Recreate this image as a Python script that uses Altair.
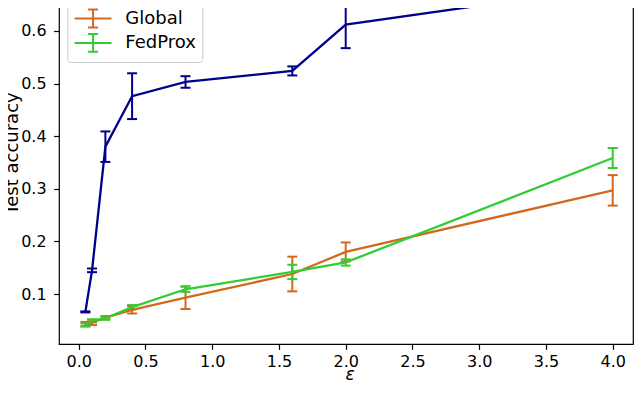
import altair as alt
import pandas as pd

# ---- data ----
eps = [0.05, 0.1, 0.2, 0.4, 0.8, 1.6, 2.0, 4.0]
series_names = ["Ours", "Global", "FedProx"]
series_colors = ["#00008b", "#d2691e", "#32cd32"]
legend_shown = ["Global", "FedProx"]

ours_mean = [0.066, 0.145, 0.380, 0.476, 0.503, 0.524, 0.612, 0.684]
ours_err = [0.001, 0.0035, 0.029, 0.0435, 0.011, 0.0086, 0.0447, 0.014]
global_mean = [0.043, 0.046, 0.055, 0.070, 0.093, 0.138, 0.180, 0.297]
global_err = [0.004, 0.005, 0.003, 0.007, 0.0215, 0.033, 0.018, 0.029]
fedprox_mean = [0.041, 0.049, 0.054, 0.075, 0.109, 0.142, 0.160, 0.3585]
fedprox_err = [0.003, 0.003, 0.003, 0.004, 0.005, 0.0136, 0.006, 0.019]

x_ticks = [0.0, 0.5, 1.0, 1.5, 2.0, 2.5, 3.0, 3.5, 4.0]
y_ticks = [0.1, 0.2, 0.3, 0.4, 0.5, 0.6]

rows = []
for name, means, errs in zip(series_names,
                             [ours_mean, global_mean, fedprox_mean],
                             [ours_err, global_err, fedprox_err]):
    for e, m, s in zip(eps, means, errs):
        rows.append({"series": name, "eps": e, "acc": m, "lo": m - s, "hi": m + s})
df = pd.DataFrame(rows)

FONT = "DejaVu Sans"
W, H = 574, 382

x_scale = alt.Scale(domain=[-0.1475, 4.152], nice=False, zero=False)
y_scale = alt.Scale(domain=[0.005, 0.731], nice=False, zero=False)
color_scale = alt.Scale(domain=series_names, range=series_colors)

legend_path = "M-1,0H3M1,-0.97V0.97M0.46,-0.97H1.54M0.46,0.97H1.54"
color_enc = alt.Color(
    "series:N", scale=color_scale, sort=series_names,
    legend=alt.Legend(
        title=None, orient="none", legendX=8.3, legendY=40,
        values=legend_shown,
        symbolType=legend_path, symbolSize=342, symbolStrokeWidth=2,
        symbolFillColor="transparent",
        labelFont=FONT, labelFontSize=18, labelColor="black", labelOffset=31,
        rowPadding=-2.6, padding=6, fillColor="rgba(255,255,255,0.8)",
        strokeColor="#cccccc", cornerRadius=3,
    ),
)

x_axis = alt.Axis(
    values=x_ticks, format=".1f", title="ε", titleFont=FONT, titleFontSize=17,
    titleFontStyle="italic", titleFontWeight="normal", titleColor="black",
    titleX=290.5, titleY=30, titleBaseline="middle", titleAlign="center",
    grid=False, domain=False, tickColor="black", tickWidth=1.2, tickSize=5.4,
    labelFont=FONT, labelFontSize=16, labelColor="black", labelPadding=4,
    labelFlush=False,
)
y_axis = alt.Axis(
    values=y_ticks, format=".1f", title="Test accuracy", titleFont=FONT,
    titleFontSize=18, titleFontWeight="normal", titleColor="black",
    titleX=-47, titleY=H / 2, titleBaseline="middle", titleAlign="center",
    grid=False, domain=False, tickColor="black", tickWidth=1.2, tickSize=5.4,
    labelFont=FONT, labelFontSize=16, labelColor="black", labelPadding=7.5,
    labelFlush=False,
)

base = alt.Chart(df)

bars = base.mark_rule(strokeWidth=2).encode(
    x=alt.X("eps:Q", scale=x_scale, axis=x_axis),
    y=alt.Y("lo:Q", scale=y_scale, axis=y_axis),
    y2="hi:Q",
    color=color_enc,
)
caps_lo = base.mark_rule(strokeWidth=2, xOffset=-5, x2Offset=5).encode(
    x=alt.X("eps:Q", scale=x_scale, axis=x_axis),
    x2="eps:Q",
    y=alt.Y("lo:Q", scale=y_scale, axis=y_axis),
    color=color_enc,
)
caps_hi = base.mark_rule(strokeWidth=2, xOffset=-5, x2Offset=5).encode(
    x=alt.X("eps:Q", scale=x_scale, axis=x_axis),
    x2="eps:Q",
    y=alt.Y("hi:Q", scale=y_scale, axis=y_axis),
    color=color_enc,
)
lines = base.mark_line(strokeWidth=2.3).encode(
    x=alt.X("eps:Q", scale=x_scale, axis=x_axis),
    y=alt.Y("acc:Q", scale=y_scale, axis=y_axis),
    color=color_enc,
    order="eps:Q",
)

chart = (
    alt.layer(bars, caps_lo, caps_hi, lines)
    .properties(
        width=W, height=H,
        autosize=alt.AutoSizeParams(type="none"),
        padding={"left": 51, "top": -46, "right": 1, "bottom": 36},
        background="white",
    )
    .configure_view(stroke="black", strokeWidth=1.2)
)

chart.save("out.html", embed_options={"renderer": "svg", "actions": False})
